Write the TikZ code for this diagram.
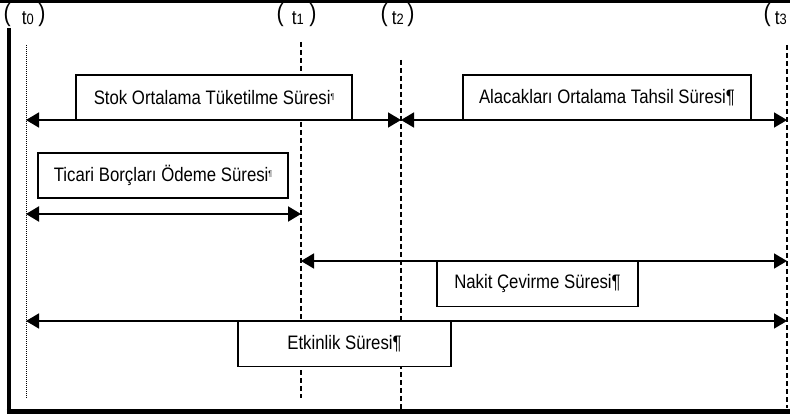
\documentclass[tikz,border=0pt]{standalone}
\usepackage{fontspec}
\setmainfont{Liberation Sans}[FakeStretch=0.86]
\usetikzlibrary{arrows.meta}

% time mark label: ( t_n with adjustable gap
\newcommand\tmopen[2]{{\fontsize{25}{25}\selectfont(}\hspace{#2pt}\raisebox{-3pt}{\fontsize{20}{20}\selectfont t\fontsize{15}{15}\selectfont #1}}
\newcommand\tmark[3]{\tmopen{#1}{#2}\hspace{#3pt}{\fontsize{25}{25}\selectfont)}}
\newcommand\smallpil{\raisebox{5pt}{\fontsize{8}{8}\selectfont ¶}}

\begin{document}
\begin{tikzpicture}[x=1pt,y=-1pt,
  period/.style={draw=black, line width=1.3pt, fill=white, inner sep=0pt,
    minimum height=45pt, font=\fontsize{19.5}{19.5}\selectfont},
  span/.style={line width=1.6pt,
    {Triangle[length=13pt,width=15pt]}-{Triangle[length=13pt,width=15pt]}},
  tick/.style={line width=1.2pt, dash pattern=on 5pt off 3pt},
  dotline/.style={line width=1pt, dash pattern=on 1pt off 1pt},
  frame/.style={line width=#1}]

\useasboundingbox (0,0) rectangle (790,414);

% outer frame (open on the right)
\coordinate (ftl) at (0,1.5);
\coordinate (ftr) at (790,1.5);
\coordinate (flt) at (8.5,28);
\coordinate (flb) at (8.5,413.5);
\coordinate (fbl) at (6.5,411.5);
\coordinate (fbr) at (790,411.5);
\draw[frame=3pt] (ftl) -- (ftr);
\draw[frame=4pt] (flt) -- (flb);
\draw[frame=5pt] (fbl) -- (fbr);

% time axes
\coordinate (x0) at (26,0);
\coordinate (x1) at (301,0);
\coordinate (x2) at (401,0);
\coordinate (x3) at (787,0);
\coordinate (t0a) at (26,45);   \coordinate (t0b) at (26,398);
\coordinate (t1a) at (301,42);  \coordinate (t1b) at (301,398);
\coordinate (t2a) at (401,60);  \coordinate (t2b) at (401,414);
\coordinate (t3a) at (787,45);  \coordinate (t3b) at (787,408);
\draw[dotline] (t0a) -- (t0b);
\draw[tick] (t1a) -- (t1b);
\draw[tick] (t2a) -- (t2b);
\draw[tick] (t3a) -- (t3b);

% time labels
\node[inner sep=0pt, anchor=base west] (lt0) at (3.5,22) {\tmark{0}{11}{4.5}};
\node[inner sep=0pt, anchor=base west] (lt1) at (276.5,22) {\tmark{1}{8}{5.5}};
\node[inner sep=0pt, anchor=base west] (lt2) at (380.5,22) {\tmark{2}{4}{3.5}};
\node[inner sep=0pt, anchor=base west] (lt3) at (763.5,22) {\tmopen{3}{4}};

% period boxes
\node[period, minimum width=276pt] (stok) at (214,97.5) {Stok Ortalama Tüketilme Süresi\smallpil};
\node[period, minimum width=288pt] (alacak) at (607,97.5) {Alacakları Ortalama Tahsil Süresi¶};
\node[period, minimum width=250pt] (borc) at (163,175.5) {Ticari Borçları Ödeme Süresi\smallpil};
\node[period, minimum width=201pt] (nakit) at (537.5,284) {Nakit Çevirme Süresi¶};
\node[period, minimum width=213pt] (etkin) at (344.5,344) {Etkinlik Süresi¶};

% row levels
\coordinate (r1) at (0,120);
\coordinate (r2) at (0,214);
\coordinate (r3) at (0,261);
\coordinate (r4) at (0,321);

% duration arrows
\draw[span] (x0 |- r1) -- (x2 |- r1);
\draw[span] (x2 |- r1) -- (x3 |- r1);
\draw[span, line width=2.2pt] (x0 |- r2) -- (x1 |- r2);
\draw[span] (x1 |- r3) -- (x3 |- r3);
\draw[span] (x0 |- r4) -- (x3 |- r4);

\end{tikzpicture}
\end{document}
